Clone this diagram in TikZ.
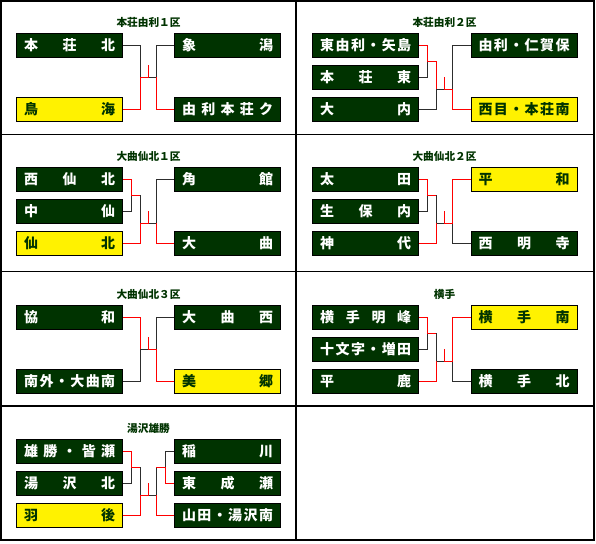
\documentclass[tikz,border=0pt]{standalone}
\usepackage{fontspec}
\newfontfamily\jp{Noto Sans CJK JP}
\definecolor{tgreen}{RGB}{0,51,0}
\definecolor{lgray}{RGB}{45,45,45}
\newcommand\dist[1]{\hbox to 68.25pt{#1}}
\tikzset{
  team/.style={draw=black, line width=0.75pt, fill=tgreen, text=white,
    minimum width=79.5pt, minimum height=18pt, inner sep=0pt,
    font=\jp\bfseries\fontsize{10.5}{12}\selectfont},
  champ/.style={team, fill=yellow, text=tgreen},
  ttl/.style={font=\jp\bfseries\fontsize{8}{10}\selectfont, text=tgreen, inner sep=0pt},
  lline/.style={draw=lgray, line width=0.75pt},
  wline/.style={draw=red, line width=0.75pt},
  grid/.style={draw=black, line width=0.9pt}
}
\begin{document}
\begin{tikzpicture}[x=0.75pt,y=-0.75pt]
\useasboundingbox (0,0) rectangle (596,543);
% grid
\draw[grid] (1,1) rectangle (594,540);
\draw[grid] (296,1) -- (296,540);
\draw[grid] (1,134.5) -- (594,134.5);
\draw[grid] (1,271.5) -- (594,271.5);
\draw[grid] (1,406) -- (594,406);

% ---------- A: 本荘由利1区 ----------
\begin{scope}[shift={(0,0)}]
\node[ttl] (aT) at (148.5,22) {本荘由利１区};
\node[team] (aL1) at (69.7,45) {\dist{本\hfill 荘\hfill 北}};
\node[champ] (aL2) at (69.7,109) {\dist{鳥\hfill 海}};
\node[team] (aR1) at (227.5,45) {\dist{象\hfill 潟}};
\node[team] (aR2) at (227.5,109) {\dist{由\hfill 利\hfill 本\hfill 荘\hfill ク}};
\coordinate (aJL) at (140.3,77); \coordinate (aC) at (148.3,77);
\coordinate (aJR) at (156.3,77); \coordinate (aTk) at (148.3,65);
\draw[lline] (aL1.east) -| (aJL);
\draw[lline] (aR1.west) -| (aJR);
\draw[lline] (aC) -- (aJR);
\draw[wline] (aL2.east) -| (aJL) -- (aC) -- (aTk);
\draw[wline] (aR2.west) -| (aJR);
\end{scope}

% ---------- B: 本荘由利2区 ----------
\begin{scope}[shift={(296,0)}]
\node[ttl] (bT) at (148.5,22) {本荘由利２区};
\node[team] (bL1) at (69.7,45) {\dist{東\hfill 由\hfill 利\hfill ・\hfill 矢\hfill 島}};
\node[team] (bL2) at (69.7,77) {\dist{本\hfill 荘\hfill 東}};
\node[team] (bL3) at (69.7,109) {\dist{大\hfill 内}};
\node[team] (bR1) at (228,45) {\dist{由\hfill 利\hfill ・\hfill 仁\hfill 賀\hfill 保}};
\node[champ] (bR2) at (228,109) {\dist{西\hfill 目\hfill ・\hfill 本\hfill 荘\hfill 南}};
\coordinate (bS) at (131.3,61); \coordinate (bS2) at (140.3,61);
\coordinate (bF) at (140.3,89); \coordinate (bC) at (148.3,89);
\coordinate (bJR) at (156.3,89); \coordinate (bTk) at (148.3,77);
\draw[lline] (bL2.east) -| (bS);
\draw[lline] (bL3.east) -| (bF);
\draw[lline] (bF) -- (bC);
\draw[lline] (bR1.west) -| (bJR);
\draw[wline] (bL1.east) -| (bS) -- (bS2) -- (bF);
\draw[wline] (bR2.west) -| (bJR) -- (bC) -- (bTk);
\end{scope}

% ---------- C: 大曲仙北1区 ----------
\begin{scope}[shift={(0,134)}]
\node[ttl] (cT) at (148.5,22) {大曲仙北１区};
\node[team] (cL1) at (69.7,45) {\dist{西\hfill 仙\hfill 北}};
\node[team] (cL2) at (69.7,77) {\dist{中\hfill 仙}};
\node[champ] (cL3) at (69.7,109) {\dist{仙\hfill 北}};
\node[team] (cR1) at (227.5,45) {\dist{角\hfill 館}};
\node[team] (cR2) at (227.5,109) {\dist{大\hfill 曲}};
\coordinate (cS) at (131.3,61); \coordinate (cS2) at (140.3,61);
\coordinate (cF) at (140.3,89); \coordinate (cC) at (148.3,89);
\coordinate (cJR) at (156.3,89); \coordinate (cTk) at (148.3,77);
\draw[lline] (cL2.east) -| (cS);
\draw[lline] (cS2) -- (cF);
\draw[lline] (cR1.west) -| (cJR);
\draw[lline] (cC) -- (cJR);
\draw[wline] (cL1.east) -| (cS) -- (cS2);
\draw[wline] (cL3.east) -| (cF) -- (cC) -- (cTk);
\draw[wline] (cR2.west) -| (cJR);
\end{scope}

% ---------- D: 大曲仙北2区 ----------
\begin{scope}[shift={(296,134)}]
\node[ttl] (dT) at (148.5,22) {大曲仙北２区};
\node[team] (dL1) at (69.7,45) {\dist{太\hfill 田}};
\node[team] (dL2) at (69.7,77) {\dist{生\hfill 保\hfill 内}};
\node[team] (dL3) at (69.7,109) {\dist{神\hfill 代}};
\node[champ] (dR1) at (228,45) {\dist{平\hfill 和}};
\node[team] (dR2) at (228,109) {\dist{西\hfill 明\hfill 寺}};
\coordinate (dS) at (131.3,61); \coordinate (dS2) at (140.3,61);
\coordinate (dF) at (140.3,89); \coordinate (dC) at (148.3,89);
\coordinate (dJR) at (156.3,89); \coordinate (dTk) at (148.3,77);
\draw[lline] (dL2.east) -| (dS);
\draw[lline] (dS2) -- (dF);
\draw[lline] (dF) -- (dC);
\draw[lline] (dR2.west) -| (dJR);
\draw[wline] (dL1.east) -| (dS) -- (dS2);
\draw[wline] (dL3.east) -| (dF);
\draw[wline] (dR1.west) -| (dJR) -- (dC) -- (dTk);
\end{scope}

% ---------- E: 大曲仙北3区 ----------
\begin{scope}[shift={(0,272)}]
\node[ttl] (eT) at (148.5,22) {大曲仙北３区};
\node[team] (eL1) at (69.7,45) {\dist{協\hfill 和}};
\node[team] (eL2) at (69.7,109) {\dist{南\hfill 外\hfill ・\hfill 大\hfill 曲\hfill 南}};
\node[team] (eR1) at (227.5,45) {\dist{大\hfill 曲\hfill 西}};
\node[champ] (eR2) at (227.5,109) {\dist{美\hfill 郷}};
\coordinate (eJL) at (140.3,77); \coordinate (eC) at (148.3,77);
\coordinate (eJR) at (156.3,77); \coordinate (eTk) at (148.3,65);
\draw[lline] (eL2.east) -| (eJL);
\draw[lline] (eJL) -- (eC);
\draw[lline] (eR1.west) -| (eJR);
\draw[wline] (eL1.east) -| (eJL);
\draw[wline] (eR2.west) -| (eJR) -- (eC) -- (eTk);
\end{scope}

% ---------- F: 横手 ----------
\begin{scope}[shift={(296,272)}]
\node[ttl] (fT) at (148.5,22) {横手};
\node[team] (fL1) at (69.7,45) {\dist{横\hfill 手\hfill 明\hfill 峰}};
\node[team] (fL2) at (69.7,77) {\dist{十\hfill 文\hfill 字\hfill ・\hfill 増\hfill 田}};
\node[team] (fL3) at (69.7,109) {\dist{平\hfill 鹿}};
\node[champ] (fR1) at (228,45) {\dist{横\hfill 手\hfill 南}};
\node[team] (fR2) at (228,109) {\dist{横\hfill 手\hfill 北}};
\coordinate (fS) at (131.3,61); \coordinate (fS2) at (140.3,61);
\coordinate (fF) at (140.3,89); \coordinate (fC) at (148.3,89);
\coordinate (fJR) at (156.3,89); \coordinate (fTk) at (148.3,77);
\draw[lline] (fL2.east) -| (fS);
\draw[lline] (fS2) -- (fF);
\draw[lline] (fF) -- (fC);
\draw[lline] (fR2.west) -| (fJR);
\draw[wline] (fL1.east) -| (fS) -- (fS2);
\draw[wline] (fL3.east) -| (fF);
\draw[wline] (fR1.west) -| (fJR) -- (fC) -- (fTk);
\end{scope}

% ---------- G: 湯沢雄勝 ----------
\begin{scope}[shift={(0,406)}]
\node[ttl] (gT) at (148.5,22) {湯沢雄勝};
\node[team] (gL1) at (69.7,45) {\dist{雄\hfill 勝\hfill ・\hfill 皆\hfill 瀬}};
\node[team] (gL2) at (69.7,77) {\dist{湯\hfill 沢\hfill 北}};
\node[champ] (gL3) at (69.7,109) {\dist{羽\hfill 後}};
\node[team] (gR1) at (227.5,45) {\dist{稲\hfill 川}};
\node[team] (gR2) at (227.5,77) {\dist{東\hfill 成\hfill 瀬}};
\node[team] (gR3) at (227.5,109) {\dist{山\hfill 田\hfill ・\hfill 湯\hfill 沢\hfill 南}};
\coordinate (gS) at (131.3,61); \coordinate (gS2) at (140.3,61);
\coordinate (gF) at (140.3,89); \coordinate (gC) at (148.3,89);
\coordinate (gJR) at (156.3,89); \coordinate (gTk) at (148.3,77);
\coordinate (gRS) at (165.3,61); \coordinate (gRS2) at (156.3,61);
\draw[lline] (gL2.east) -| (gS);
\draw[lline] (gS2) -- (gF);
\draw[lline] (gR1.west) -| (gRS);
\draw[lline] (gRS2) -- (gJR);
\draw[lline] (gC) -- (gJR);
\draw[wline] (gL1.east) -| (gS) -- (gS2);
\draw[wline] (gL3.east) -| (gF) -- (gC) -- (gTk);
\draw[wline] (gR2.west) -| (gRS) -- (gRS2);
\draw[wline] (gR3.west) -| (gJR);
\end{scope}
\end{tikzpicture}
\end{document}
